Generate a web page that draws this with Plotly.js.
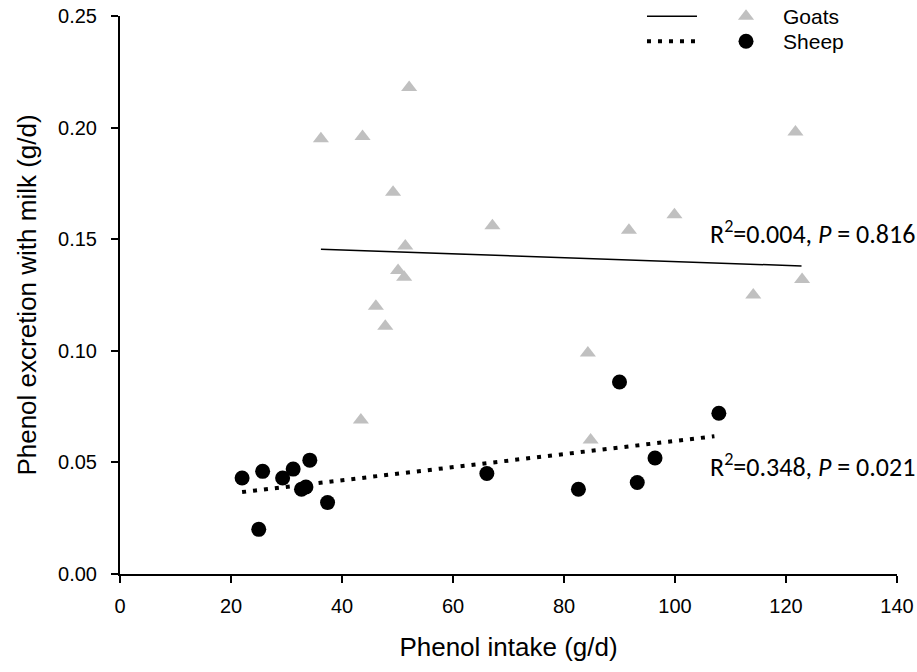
<!DOCTYPE html>
<html>
<head>
<meta charset="utf-8">
<script src="https://cdn.plot.ly/plotly-3.0.1.min.js"></script>
<style>html,body{margin:0;padding:0;background:#fff;}</style>
</head>
<body>
<div id="chart" style="width:917px;height:672px;"></div>
<script>
// Goats (grey triangles)
const goatIntake = [36.2, 43.7, 52.1, 49.2, 51.4, 50.1, 51.2, 46.1, 47.8, 43.4, 67.1, 91.7, 99.9, 121.7, 122.9, 114.1, 84.3, 84.8];
const goatMilk   = [0.195, 0.196, 0.218, 0.171, 0.147, 0.136, 0.133, 0.120, 0.111, 0.069, 0.156, 0.154, 0.161, 0.198, 0.132, 0.125, 0.099, 0.060];
// Sheep (black circles)
const sheepIntake = [22.0, 25.7, 25.0, 29.3, 31.2, 34.2, 32.7, 33.5, 37.4, 66.1, 82.6, 90.0, 93.2, 96.4, 107.9];
const sheepMilk   = [0.043, 0.046, 0.020, 0.043, 0.047, 0.051, 0.038, 0.039, 0.032, 0.045, 0.038, 0.086, 0.041, 0.052, 0.072];
// Regression lines (end points)
const goatFitX = [36.2, 122.8];
const goatFitY = [0.1455, 0.138];
const sheepFitX = [22.0, 107.1];
const sheepFitY = [0.0367, 0.0617];
// Texts
const xTickVals = [0, 20, 40, 60, 80, 100, 120, 140];
const yTickVals = [0, 0.05, 0.10, 0.15, 0.20, 0.25];
const goatStat = 'R<sup>2</sup>=0.004, <i>P</i> = 0.816';
const sheepStat = 'R<sup>2</sup>=0.348, <i>P</i> = 0.021';
const goatStatPos = [105.9, 0.1532];
const sheepStatPos = [105.9, 0.0484];

const tickFont = {family: 'Liberation Sans, Arial, sans-serif', size: 20, color: '#000'};
const titleFont = {family: 'Liberation Sans, Arial, sans-serif', size: 26, color: '#000'};
const legFont = {family: 'Liberation Sans, Arial, sans-serif', size: 21, color: '#000'};
const statFont = {family: 'Carlito, Lato, sans-serif', size: 26, color: '#000'};

const traces = [
  {x: goatFitX, y: goatFitY, mode: 'lines', name: ' ', line: {color: '#000', width: 1.5}, legend: 'legend', hoverinfo: 'skip'},
  {x: goatIntake, y: goatMilk, mode: 'markers', name: 'Goats', marker: {symbol: 'triangle-up', size: 14, color: '#c0c0c0'}, legend: 'legend2', cliponaxis: false},
  {x: sheepFitX, y: sheepFitY, mode: 'lines', name: ' ', line: {color: '#000', width: 4, dash: '4px,7px'}, legend: 'legend3', hoverinfo: 'skip'},
  {x: sheepIntake, y: sheepMilk, mode: 'markers', name: 'Sheep', marker: {symbol: 'circle', size: 15, color: '#000'}, legend: 'legend4', cliponaxis: false}
];

const legBase = {font: legFont, bgcolor: 'rgba(0,0,0,0)', borderwidth: 0, xref: 'container', yref: 'container', xanchor: 'left', yanchor: 'middle'};

const layout = {
  width: 917, height: 672,
  margin: {l: 120, r: 20, t: 16, b: 98, autoexpand: false},
  paper_bgcolor: '#fff', plot_bgcolor: '#fff',
  showlegend: true,
  legend: Object.assign({}, legBase, {x: 0.7001, y: 0.9754, itemwidth: 50}),
  legend2: Object.assign({}, legBase, {x: 0.7732, y: 0.9754, itemwidth: 64}),
  legend3: Object.assign({}, legBase, {x: 0.7001, y: 0.9382, itemwidth: 50}),
  legend4: Object.assign({}, legBase, {x: 0.7732, y: 0.9382, itemwidth: 64}),
  xaxis: {
    range: [0, 140], tickvals: xTickVals, ticks: 'outside', ticklen: 7, tickwidth: 2, tickcolor: '#000',
    showline: true, linewidth: 2, linecolor: '#000', showgrid: false, zeroline: false,
    tickfont: tickFont, ticklabelstandoff: 6,
    title: {text: 'Phenol intake (g/d)', font: titleFont, standoff: 22}
  },
  yaxis: {
    range: [0, 0.25], tickvals: yTickVals, tickformat: '.2f', ticks: 'outside', ticklen: 7, tickwidth: 2, tickcolor: '#000',
    showline: true, linewidth: 2, linecolor: '#000', showgrid: false, zeroline: false,
    tickfont: tickFont, ticklabelstandoff: 10,
    title: {text: 'Phenol excretion with milk (g/d)', font: titleFont, standoff: 14}
  },
  annotations: [
    {x: goatStatPos[0], y: goatStatPos[1], xref: 'x', yref: 'y', text: goatStat, showarrow: false, xanchor: 'left', yanchor: 'middle', font: statFont},
    {x: sheepStatPos[0], y: sheepStatPos[1], xref: 'x', yref: 'y', text: sheepStat, showarrow: false, xanchor: 'left', yanchor: 'middle', font: statFont}
  ]
};

Plotly.newPlot('chart', traces, layout, {displayModeBar: false, staticPlot: true});
</script>
</body>
</html>
